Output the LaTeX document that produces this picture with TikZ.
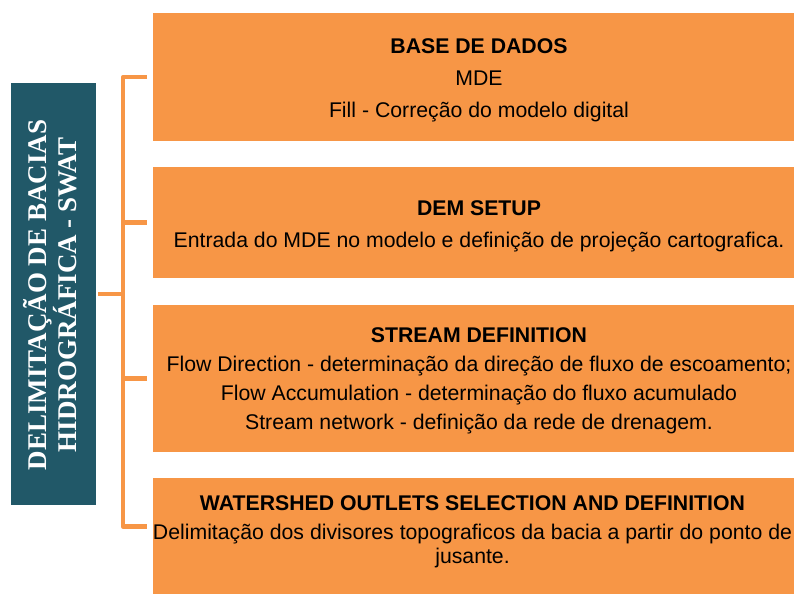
\documentclass[tikz,border=0pt]{standalone}
\usepackage{fontspec}
\setmainfont{Liberation Sans}
\newfontfamily\titleserif{Liberation Serif}
\usepackage{tikz}
\definecolor{boxorange}{HTML}{F79646}
\definecolor{darkteal}{HTML}{215868}
\tikzset{stepbox/.style = {fill = boxorange, inner sep = 0pt, anchor = north west, minimum width = 641pt}}
\tikzset{boxtext/.style = {align = center, inner sep = 0pt, anchor = base, font = \fontsize{21.25}{24}\selectfont}}
\tikzset{bracket/.style = {boxorange, line width = 4.5pt, line join = round}}

\begin{document}
\begin{tikzpicture}[x = 1pt, y = -1pt]
    \useasboundingbox (0, 0) rectangle (794, 594);
    % left title
    \node [fill = darkteal, inner sep = 0pt, minimum width = 85pt, minimum height = 422pt] (title) at (53.5, 294) {};
    \node [rotate = 90, anchor = base, align = center, inner sep = 0pt, text = white, font = \titleserif\bfseries\fontsize{27}{28}\selectfont] (titletext) at (76, 295) {DELIMITAÇÃO DE BACIAS\\HIDROGRÁFICA - SWAT};
    % steps (text anchored at the baseline of its last line)
    \node [stepbox, minimum height = 128pt] (b1) at (153, 13) {};
    \node [stepbox, minimum height = 111pt] (b2) at (153, 167) {};
    \node [stepbox, minimum height = 147pt] (b3) at (153, 305) {};
    \node [stepbox, minimum height = 116pt] (b4) at (153, 478) {};
    \node [boxtext] (t1) at (479, 117) {\textbf{BASE DE DADOS}\\[7.5pt]MDE\\[7.5pt]Fill - Correção do modelo digital};
    \node [boxtext] (t2) at (479, 247.5) {\textbf{DEM SETUP}\\[8pt]Entrada do MDE no modelo e definição de projeção cartografica.};
    \node [boxtext] (t3) at (479, 429.5) {\textbf{STREAM DEFINITION}\\[5pt]Flow Direction - determinação da direção de fluxo de escoamento;\\[5pt]Flow Accumulation - determinação do fluxo acumulado\\[5pt]Stream network - definição da rede de drenagem.};
    \node [boxtext] (t4) at (472.5, 563) {\textbf{WATERSHED OUTLETS SELECTION AND DEFINITION}\\[5pt]Delimitação dos divisores topograficos da bacia a partir do ponto de\\jusante.};
    % bracket
    \coordinate (spine) at (123, 294);
    \coordinate (bend) at (147, 526.5);
    \draw [bracket] ([xshift = 2pt]title.east) -- (spine);
    \draw [bracket] ([xshift = -6pt]b1.west) -| (spine) |- (bend);
    \foreach \i in {2, 3} {
        \draw [bracket] (spine |- b\i.west) -- ([xshift = -6pt]b\i.west);
    }
\end{tikzpicture}
\end{document}
